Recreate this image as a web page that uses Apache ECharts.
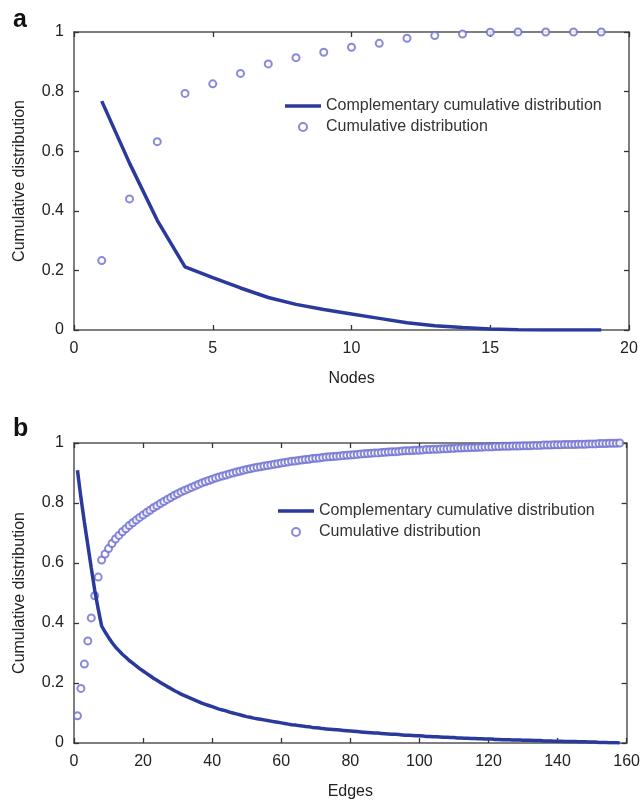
<!DOCTYPE html>
<html>
<head>
<meta charset="utf-8">
<script src="https://cdn.jsdelivr.net/npm/echarts@6/dist/echarts.min.js"></script>
<style>
  html, body { margin: 0; padding: 0; background: #fff; }
  #echarts { width: 643px; height: 803px; }
</style>
</head>
<body>
<div id="echarts"></div>
<script>
// panel a - nodes
var nodes = [1,2,3,4,5,6,7,8,9,10,11,12,13,14,15,16,17,18,19];
var nodeCdf = [0.233,0.44,0.632,0.794,0.826,0.861,0.893,0.914,0.932,0.949,0.962,0.979,0.988,0.993,0.999,1,1,1,1];
var nodeCcdf = [0.768,0.56,0.368,0.212,0.176,0.141,0.109,0.086,0.069,0.054,0.039,0.024,0.014,0.008,0.003,0.001,0,0,0];

// panel b - edges (one value per edge count, starting at 1)
var edgeCdf = [
    0.091,0.182,0.263,0.340,0.417,0.491,0.553,0.610,0.630,0.648,
    0.665,0.680,0.692,0.704,0.714,0.725,0.734,0.743,0.752,0.760,
    0.768,0.776,0.784,0.791,0.798,0.805,0.812,0.818,0.825,0.831,
    0.837,0.842,0.847,0.852,0.857,0.862,0.867,0.871,0.875,0.879,
    0.883,0.887,0.890,0.893,0.897,0.900,0.903,0.906,0.909,0.912,
    0.914,0.917,0.919,0.921,0.923,0.925,0.927,0.929,0.931,0.933,
    0.935,0.937,0.939,0.940,0.942,0.943,0.945,0.946,0.948,0.949,
    0.950,0.952,0.953,0.954,0.955,0.956,0.957,0.958,0.959,0.960,
    0.961,0.962,0.963,0.964,0.965,0.966,0.967,0.967,0.968,0.969,
    0.970,0.971,0.971,0.972,0.973,0.974,0.974,0.975,0.976,0.976,
    0.977,0.978,0.978,0.979,0.979,0.980,0.981,0.981,0.982,0.982,
    0.983,0.983,0.984,0.984,0.985,0.985,0.986,0.986,0.987,0.987,
    0.987,0.988,0.988,0.989,0.989,0.989,0.990,0.990,0.990,0.991,
    0.991,0.991,0.992,0.992,0.992,0.993,0.993,0.993,0.994,0.994,
    0.994,0.995,0.995,0.995,0.995,0.996,0.996,0.996,0.997,0.997,
    0.997,0.998,0.998,0.998,0.999,0.999,0.999,1.000
];
var edgeCcdf = [
    0.909,0.818,0.737,0.660,0.583,0.509,0.447,0.390,0.370,0.352,
    0.335,0.320,0.308,0.296,0.286,0.275,0.266,0.257,0.248,0.240,
    0.232,0.224,0.216,0.209,0.202,0.195,0.188,0.182,0.175,0.169,
    0.163,0.158,0.153,0.148,0.143,0.138,0.133,0.129,0.125,0.121,
    0.117,0.113,0.110,0.107,0.103,0.100,0.097,0.094,0.091,0.088,
    0.086,0.083,0.081,0.079,0.077,0.075,0.073,0.071,0.069,0.067,
    0.065,0.063,0.061,0.060,0.058,0.057,0.055,0.054,0.052,0.051,
    0.050,0.048,0.047,0.046,0.045,0.044,0.043,0.042,0.041,0.040,
    0.039,0.038,0.037,0.036,0.035,0.034,0.033,0.033,0.032,0.031,
    0.030,0.029,0.029,0.028,0.027,0.026,0.026,0.025,0.024,0.024,
    0.023,0.022,0.022,0.021,0.021,0.020,0.019,0.019,0.018,0.018,
    0.017,0.017,0.016,0.016,0.015,0.015,0.014,0.014,0.013,0.013,
    0.013,0.012,0.012,0.011,0.011,0.011,0.010,0.010,0.010,0.009,
    0.009,0.009,0.008,0.008,0.008,0.007,0.007,0.007,0.006,0.006,
    0.006,0.005,0.005,0.005,0.005,0.004,0.004,0.004,0.003,0.003,
    0.003,0.002,0.002,0.002,0.001,0.001,0.001,0.000
];
var yTicks = [0, 0.2, 0.4, 0.6, 0.8, 1];

var lineName = 'Complementary cumulative distribution';
var dotName = 'Cumulative distribution';
var lineColor = '#2a3a9c';
var dotColor = '#6b6bd0';
var frameColor = '#555';
var textColor = '#222';
var font = '"Liberation Sans", Arial, sans-serif';

function pairs(xs, ys) {
    var out = [];
    for (var i = 0; i < ys.length; i++) {
        out.push([xs[i], ys[i]]);
    }
    return out;
}
var edges = [];
for (var i = 0; i < edgeCdf.length; i++) { edges.push(i + 1); }

function xAx(grid, max, interval, name, top) {
    return {
        type: 'value', gridIndex: grid, min: 0, max: max, interval: interval,
        position: top ? 'top' : 'bottom',
        name: top ? '' : name, nameLocation: 'middle', nameGap: 41,
        nameTextStyle: {fontFamily: font, fontSize: 16, color: textColor},
        axisLine: {show: true, onZero: false, lineStyle: {color: frameColor, width: 1.5}},
        axisTick: {show: true, inside: true, length: 5, lineStyle: {color: '#333', width: 1.3}},
        axisLabel: {show: !top, margin: 11, fontFamily: font, fontSize: 16, color: textColor},
        splitLine: {show: false}
    };
}
function yAx(grid, right) {
    return {
        type: 'value', gridIndex: grid, min: 0, max: 1, interval: 0.2,
        position: right ? 'right' : 'left',
        name: right ? '' : 'Cumulative distribution', nameLocation: 'middle', nameGap: 46,
        nameTextStyle: {fontFamily: font, fontSize: 16, color: textColor},
        axisLine: {show: true, onZero: false, lineStyle: {color: frameColor, width: 1.5}},
        axisTick: {show: true, inside: true, length: 5, lineStyle: {color: '#333', width: 1.3}},
        axisLabel: {show: !right, margin: 10, fontFamily: font, fontSize: 16, color: textColor,
            formatter: function (v) { return yTicks.indexOf(v) >= 0 ? String(v) : ''; }},
        splitLine: {show: false}
    };
}
function legendAt(left, top) {
    return {
        left: left, top: top, orient: 'vertical',
        itemWidth: 36, itemHeight: 8, itemGap: 5,
        textStyle: {fontFamily: font, fontSize: 16, color: '#333'},
        data: [
            // plain bar icon, no marker dot
            {name: lineName, icon: 'path://M0,0H100V10H0Z', itemStyle: {color: lineColor}},
            {name: dotName, icon: 'emptyCircle'}
        ]
    };
}

var myChart = echarts.init(document.getElementById('echarts'));
var option = {
    animation: false,
    backgroundColor: '#fff',
    title: [
        {text: 'a', left: 8, top: 3, textStyle: {fontFamily: font, fontSize: 25, fontWeight: 'bold', color: '#111'}},
        {text: 'b', left: 8, top: 412, textStyle: {fontFamily: font, fontSize: 25, fontWeight: 'bold', color: '#111'}}
    ],
    legend: [legendAt(280, 93), legendAt(273, 498)],
    grid: [
        {left: 74, top: 32, width: 555, height: 298},
        {left: 74, top: 443, width: 555, height: 300}
    ],
    xAxis: [
        xAx(0, 20, 5, 'Nodes', false), xAx(0, 20, 5, '', true),
        xAx(1, 160, 20, 'Edges', false), xAx(1, 160, 20, '', true)
    ],
    yAxis: [yAx(0, false), yAx(0, true), yAx(1, false), yAx(1, true)],
    series: [
        {
            name: lineName, type: 'line', xAxisIndex: 0, yAxisIndex: 0,
            symbol: 'none', lineStyle: {color: lineColor, width: 3.5}, itemStyle: {color: lineColor},
            data: pairs(nodes, nodeCcdf)
        },
        {
            name: dotName, type: 'scatter', xAxisIndex: 0, yAxisIndex: 0, clip: false,
            symbol: 'emptyCircle', symbolSize: 7,
            itemStyle: {color: dotColor, borderColor: dotColor, borderWidth: 1.4},
            data: pairs(nodes, nodeCdf)
        },
        {
            name: lineName, type: 'line', xAxisIndex: 2, yAxisIndex: 2,
            symbol: 'none', lineStyle: {color: lineColor, width: 3.5}, itemStyle: {color: lineColor},
            data: pairs(edges, edgeCcdf)
        },
        {
            name: dotName, type: 'scatter', xAxisIndex: 2, yAxisIndex: 2, clip: false,
            symbol: 'emptyCircle', symbolSize: 7,
            itemStyle: {color: dotColor, borderColor: dotColor, borderWidth: 1.4},
            data: pairs(edges, edgeCdf)
        }
    ]
};
myChart.setOption(option);
</script>
</body>
</html>
